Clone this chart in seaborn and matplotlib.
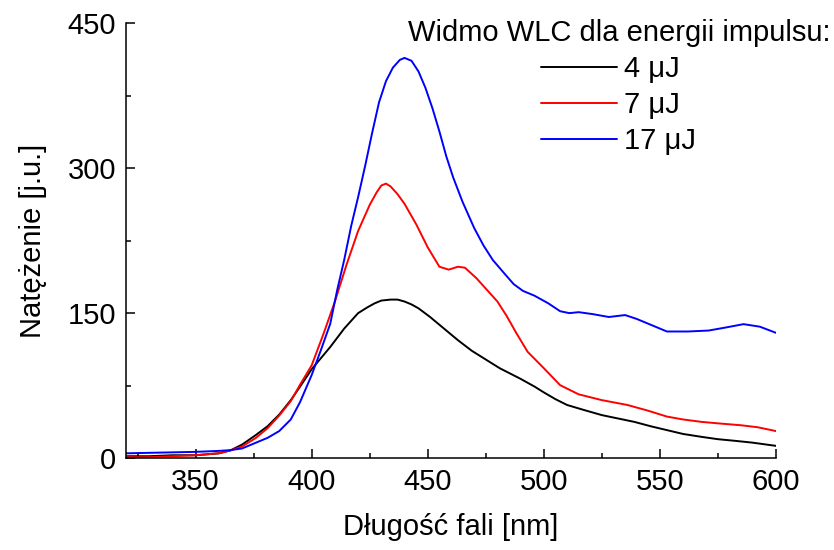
import numpy as np
import pandas as pd
import seaborn as sns
import matplotlib.pyplot as plt

# widmo WLC
wl_4 = [320, 330, 340, 350, 360, 365, 370, 376, 381, 386, 391, 395, 400, 408, 414, 420, 424, 427,
        430, 434, 437, 440, 443, 446, 451, 457, 463, 469, 475, 481, 490, 496, 500, 505, 510, 517,
        525, 532, 539, 546, 553, 560, 568, 575, 582, 590, 600]
i_4 = [2, 2, 3, 3, 5, 8, 14, 24, 33, 45, 60, 74, 92, 115, 134, 150, 156, 160,
       163, 164, 164, 162, 159, 155, 146, 134, 122, 111, 102, 93, 82, 74, 68, 61, 55, 50,
       44.5, 41, 37.5, 33, 29, 25, 22, 19.6, 18, 16, 12.7]

wl_7 = [320, 330, 340, 350, 360, 365, 370, 376, 381, 386, 391, 395, 400, 405, 410, 415, 420, 425,
        428, 430, 432, 434, 437, 440, 445, 450, 455, 459, 463, 466, 471, 474, 480, 484, 488, 493,
        500, 507, 515, 525, 536, 545, 553, 560, 568, 575, 585, 592, 600]
i_7 = [1, 1, 2, 3, 5, 8, 12, 21, 31, 44, 59, 76, 96, 128, 162, 200, 235, 262,
       275, 282, 284, 281, 273, 263, 242, 218, 198, 195, 198, 197, 186, 178, 162, 147, 130, 110,
       93, 75.5, 66, 60, 55, 49, 43, 40, 37.5, 36, 34, 32, 28]

wl_17 = [320, 340, 350, 360, 365, 370, 376, 381, 386, 391, 395, 400, 404, 408, 411, 414, 417, 420,
         423, 426, 429, 432, 435, 438, 440, 443, 446, 449, 452, 455, 458, 461, 465, 470, 474, 478,
         483, 487, 491, 496, 502, 507, 511, 515, 521, 528, 535, 540, 547, 553, 562, 571, 578, 586,
         593, 600]
i_17 = [5, 6, 6.5, 7.5, 8.3, 10, 16, 21, 28, 40, 58, 86, 112, 139, 174, 205, 240, 270,
        302, 336, 368, 390, 404, 412, 414, 411, 400, 383, 362, 338, 312, 290, 265, 238, 220, 205,
        191, 180, 173, 168, 160, 152, 150, 151, 149, 146, 148, 144, 137, 131, 131, 132, 135, 138.6,
        136, 129.6]

energie = ['4 μJ', '7 μJ', '17 μJ']
kolory = {'4 μJ': 'black', '7 μJ': 'red', '17 μJ': 'blue'}

df = pd.concat([
    pd.DataFrame({'wl': wl_4, 'I': i_4, 'energia': energie[0]}),
    pd.DataFrame({'wl': wl_7, 'I': i_7, 'energia': energie[1]}),
    pd.DataFrame({'wl': wl_17, 'I': i_17, 'energia': energie[2]}),
])

sns.set_style("ticks", {'text.color': 'black', 'axes.labelcolor': 'black', 'axes.edgecolor': 'black',
                        'xtick.color': 'black', 'ytick.color': 'black'})
plt.rcParams['font.family'] = ['Liberation Sans', 'DejaVu Sans']

fig = plt.figure(figsize=(8.34, 5.5), dpi=100)
ax = fig.add_axes([0.151, 0.167, 0.7795, 0.791])

sns.lineplot(data=df, x='wl', y='I', hue='energia', hue_order=energie, palette=kolory,
             estimator=None, linewidth=1.4, ax=ax)

ax.set_xlim(320, 600)
ax.set_ylim(0, 450)
ax.set_xticks([350, 400, 450, 500, 550, 600])
ax.set_xticks(np.arange(325, 600, 50), minor=True)
ax.set_yticks([0, 150, 300, 450])
ax.set_yticks([75, 225, 375], minor=True)
ax.tick_params(which='major', direction='in', length=6.5, width=1.1, labelsize=21, pad=7, color='black')
ax.tick_params(which='minor', direction='in', length=3.6, width=1.1, color='black')
for s in ['top', 'right']:
    ax.spines[s].set_visible(False)
for s in ['left', 'bottom']:
    ax.spines[s].set_linewidth(1.1)

ax.set_xlabel('Długość fali [nm]', fontsize=21)
ax.set_ylabel('Natężenie [j.u.]', fontsize=21)
ax.xaxis.set_label_coords(0.5, -0.125)
ax.yaxis.set_label_coords(-0.122, 0.5)

h, l = ax.get_legend_handles_labels()
leg = fig.legend(h, l, title='Widmo WLC dla energii impulsu:', loc='upper right',
                 bbox_to_anchor=(1.018, 1.0), frameon=False, fontsize=21, title_fontsize=21,
                 handlelength=2.6, handletextpad=0.25, labelspacing=0.28, borderpad=0.15)
ax.get_legend().remove()

fig.savefig('out.png', dpi=100)
